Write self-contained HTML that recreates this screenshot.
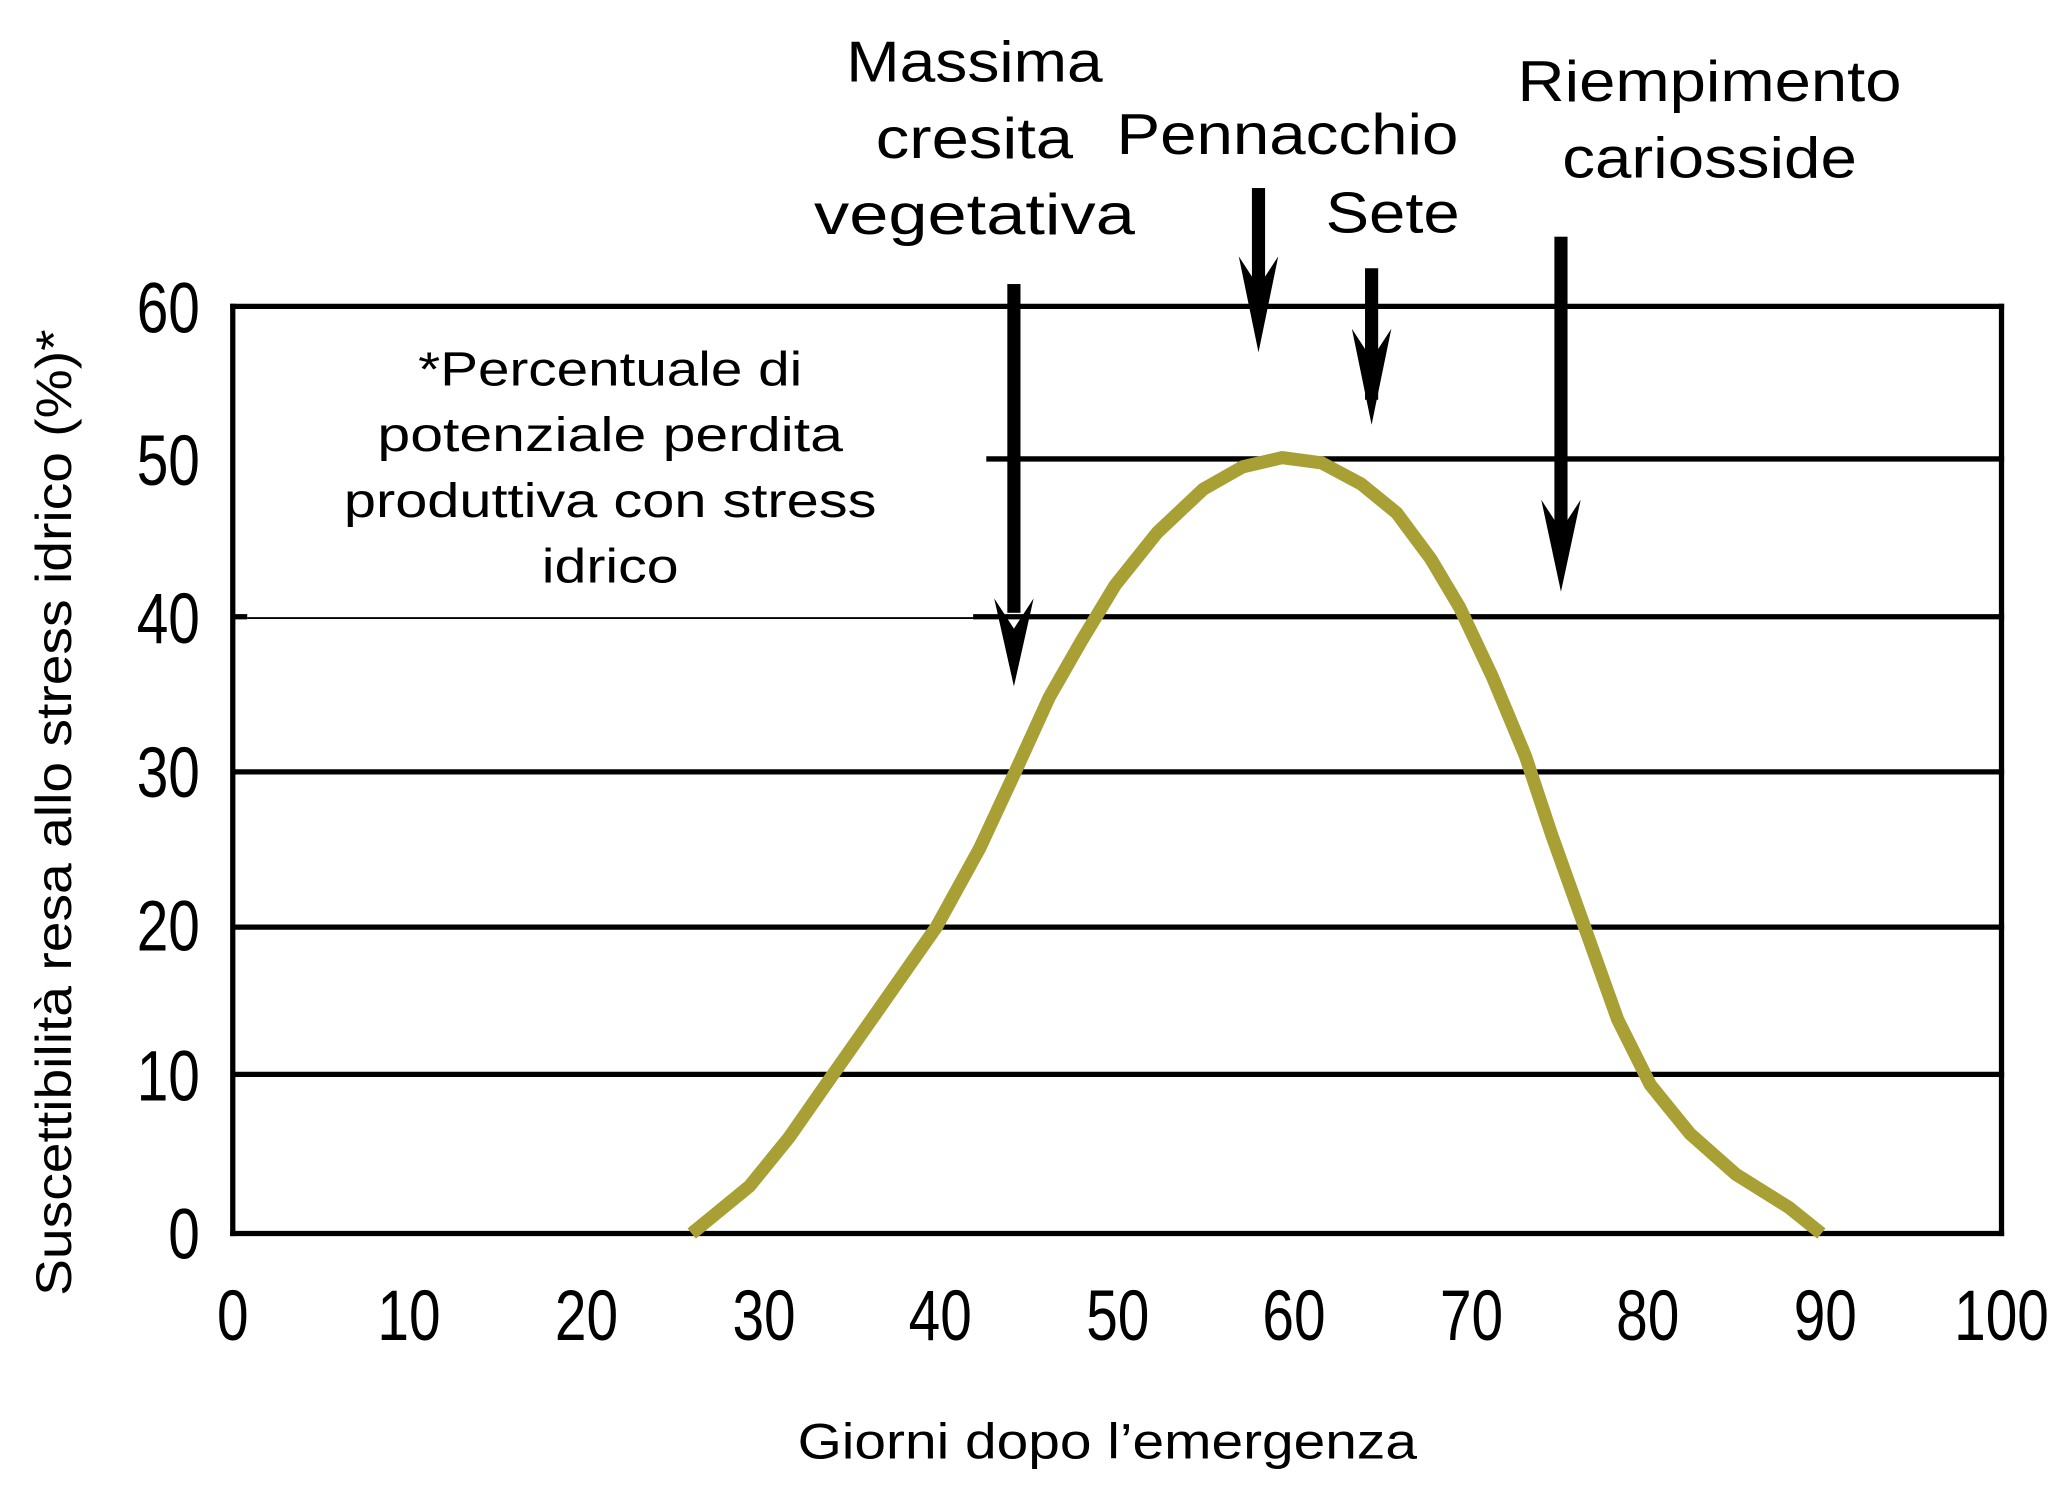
<!DOCTYPE html>
<html><head><meta charset="utf-8"><style>
html,body{margin:0;padding:0;background:#fff;}
svg{display:block;}
text{font-family:"Liberation Sans",sans-serif;fill:#000;}
</style></head><body>
<svg width="2062" height="1507" viewBox="0 0 1568 1146" preserveAspectRatio="none" xmlns="http://www.w3.org/2000/svg">
<rect width="1568" height="1146" fill="#fff"/>
<g stroke="#000" stroke-width="4" fill="none">
<line x1="175" y1="233" x2="1524" y2="233"/>
<line x1="750" y1="349" x2="1524" y2="349"/>
<line x1="740" y1="469" x2="1524" y2="469"/>
<line x1="177" y1="587" x2="1524" y2="587"/>
<line x1="177" y1="705" x2="1524" y2="705"/>
<line x1="177" y1="817" x2="1524" y2="817"/>
<line x1="175" y1="938" x2="1524" y2="938"/>
<line x1="177" y1="231" x2="177" y2="940"/>
<line x1="1522" y1="231" x2="1522" y2="940"/>
</g>
<line x1="177" y1="469" x2="188" y2="469" stroke="#000" stroke-width="4"/>
<line x1="188" y1="470" x2="742" y2="470" stroke="#000" stroke-width="1.5"/>
<polyline points="526,938 548,920 570,902 600,865 630,822 670,765 712,705 745,645 772,587 798,530 822,488 848,445 880,405 915,372 945,355 975,348 1005,352 1035,368 1062,390 1088,425 1110,462 1135,515 1160,575 1180,635 1205,705 1230,775 1255,825 1285,862 1320,893 1360,918 1385,938" stroke="#a8a035" stroke-width="10" fill="none" stroke-linejoin="round"/>
<g fill="#000">
<rect x="766" y="216" width="10" height="250"/>
<polygon points="756,455 771,478 786,455 771,522"/>
<rect x="952" y="143" width="10" height="100"/>
<polygon points="942,195 957,218 972,195 957,268"/>
<rect x="1038" y="204" width="10" height="100"/>
<polygon points="1028,250 1043,273 1058,250 1043,323"/>
<rect x="1182" y="180" width="10" height="230"/>
<polygon points="1172,380 1187,403 1202,380 1187,450"/>
</g>
<g font-size="44" text-anchor="middle" lengthAdjust="spacingAndGlyphs">
<text x="741" y="62" textLength="195" lengthAdjust="spacingAndGlyphs">Massima</text>
<text x="741" y="120" textLength="150" lengthAdjust="spacingAndGlyphs">cresita</text>
<text x="741" y="178" textLength="244" lengthAdjust="spacingAndGlyphs">vegetativa</text>
<text x="979" y="117" textLength="260" lengthAdjust="spacingAndGlyphs">Pennacchio</text>
<text x="1059" y="177" textLength="102" lengthAdjust="spacingAndGlyphs">Sete</text>
<text x="1300" y="77" textLength="292" lengthAdjust="spacingAndGlyphs">Riempimento</text>
<text x="1300" y="135" textLength="224" lengthAdjust="spacingAndGlyphs">cariosside</text>
</g>
<g font-size="37" text-anchor="middle">
<text x="464" y="293" textLength="292" lengthAdjust="spacingAndGlyphs">*Percentuale di</text>
<text x="464" y="343" textLength="354" lengthAdjust="spacingAndGlyphs">potenziale perdita</text>
<text x="464" y="393" textLength="405" lengthAdjust="spacingAndGlyphs">produttiva con stress</text>
<text x="464" y="443" textLength="104" lengthAdjust="spacingAndGlyphs">idrico</text>
</g>
<g font-size="54" text-anchor="end" transform="scale(0.8,1)">
<text x="190" y="253">60</text>
<text x="190" y="369">50</text>
<text x="190" y="489">40</text>
<text x="190" y="606">30</text>
<text x="190" y="723">20</text>
<text x="190" y="837">10</text>
<text x="190" y="957">0</text>
</g>
<g font-size="54" text-anchor="middle">
<text transform="translate(177,1019) scale(0.8,1)">0</text>
<text transform="translate(311,1019) scale(0.8,1)">10</text>
<text transform="translate(446,1019) scale(0.8,1)">20</text>
<text transform="translate(581,1019) scale(0.8,1)">30</text>
<text transform="translate(715,1019) scale(0.8,1)">40</text>
<text transform="translate(850,1019) scale(0.8,1)">50</text>
<text transform="translate(984,1019) scale(0.8,1)">60</text>
<text transform="translate(1119,1019) scale(0.8,1)">70</text>
<text transform="translate(1253,1019) scale(0.8,1)">80</text>
<text transform="translate(1388,1019) scale(0.8,1)">90</text>
<text transform="translate(1522,1019) scale(0.8,1)">100</text>
</g>
<text x="842" y="1109" font-size="38" text-anchor="middle" textLength="471" lengthAdjust="spacingAndGlyphs">Giorni dopo l’emergenza</text>
<text transform="translate(54,618) rotate(-90)" font-size="38" text-anchor="middle" textLength="735" lengthAdjust="spacingAndGlyphs">Suscettibilità resa allo stress idrico (%)*</text>
</svg>
</body></html>
